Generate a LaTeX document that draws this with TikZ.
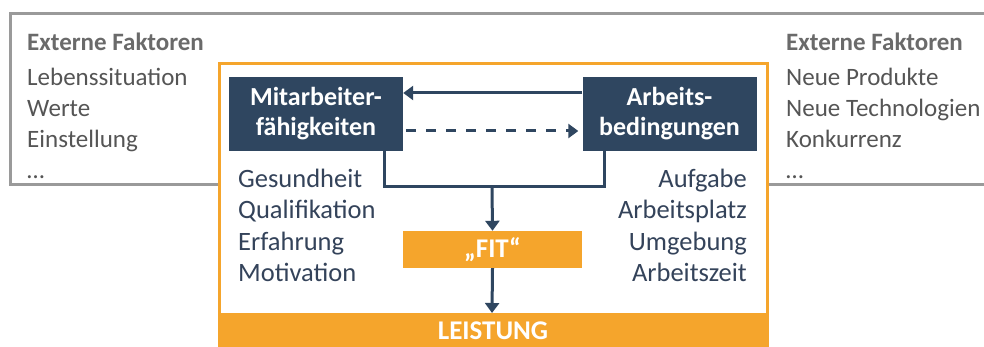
\documentclass[tikz,border=0pt]{standalone}
\usepackage{fontspec}
\setmainfont{Carlito}
\usetikzlibrary{arrows.meta}
\definecolor{navy}{HTML}{2F4660}
\definecolor{orng}{HTML}{F5A52C}
\definecolor{gline}{HTML}{9A9A9A}
\definecolor{gtitle}{HTML}{6A6A6A}
\definecolor{gtext}{HTML}{555555}
\definecolor{itext}{HTML}{34435A}
\tikzset{
  dbox/.style={fill=navy, text=white, font=\fontsize{26}{30}\selectfont\bfseries, align=center, inner sep=0pt, minimum width=174pt, minimum height=74pt},
  gtitle/.style={text=gtitle, font=\fontsize{25}{31}\selectfont\bfseries, anchor=west, inner sep=0pt},
  glist/.style={text=gtext, font=\fontsize{25}{31}\selectfont, align=left, anchor=north west, inner sep=0pt},
  ilist/.style={text=itext, font=\fontsize{26.5}{31.3}\selectfont, inner sep=0pt},
  conn/.style={draw=navy, line width=3pt},
  arr/.style={conn, -{Triangle[length=10pt,width=14pt]}},
}
\begin{document}
\begin{tikzpicture}[x=1pt,y=-1pt]
\useasboundingbox (0,0) rectangle (984,347);
\fill[white] (0,0) rectangle (984,347);
% gray outer box
\draw[gline, line width=3pt] (990,14) -- (10,14) -- (10,185) -- (990,185);
% orange box
\fill[white] (219,64) rectangle (767,350);
\draw[orng, line width=3pt] (219,352) -- (219,64) -- (767,64) -- (767,352);
\fill[orng] (219,313) rectangle (767,350);
\node[text=white, font=\fontsize{27}{30}\selectfont\bfseries] (leist) at (493,331) {LEISTUNG};
\coordinate (leisttop) at (492,313);
% external factors
\node[gtitle] (tl) at (27,42) {Externe Faktoren};
\node[glist] (ll) at (27,68) {Lebenssituation\\Werte\\Einstellung\\\dots};
\node[gtitle] (tr) at (786,42) {Externe Faktoren};
\node[glist] (rl) at (786,68) {Neue Produkte\\Neue Technologien\\Konkurrenz\\\dots};
% dark boxes
\node[dbox] (ma) at (316,114) {Mitarbeiter-\\fähigkeiten};
\node[dbox] (ab) at (669.5,114) {Arbeits-\\bedingungen};
% inner lists
\node[ilist, align=left, anchor=north west] (il) at (238,169) {Gesundheit\\Qualifikation\\Erfahrung\\Motivation};
\node[ilist, align=right, anchor=north east] (ir) at (747,169) {Aufgabe\\Arbeitsplatz\\Umgebung\\Arbeitszeit};
% FIT
\node[fill=orng, text=white, font=\fontsize{27}{30}\selectfont\bfseries, minimum width=179pt, minimum height=37pt, inner sep=0pt] (fit) at (492.5,249.5) {„FIT“};
% arrows
\draw[arr] (ab.west|-0,93) -- (ma.east|-0,93);
\draw[arr, dash pattern=on 10pt off 10pt] ([xshift=3pt]ma.east|-0,131) -- ([xshift=-4pt]ab.west|-0,131);
\coordinate (j) at (492,187);
\draw[conn] (ma.south-|384,0) |- (j) -| (ab.south-|604,0);
\draw[arr] (j) -- (fit.north);
\draw[arr] (fit.south) -- (leisttop);
\end{tikzpicture}
\end{document}
